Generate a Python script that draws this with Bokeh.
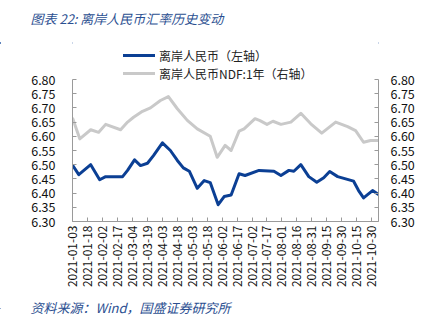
import math
import pandas as pd
from bokeh.plotting import figure
from bokeh.layouts import column
from bokeh.models import (Range1d, LinearAxis, FixedTicker, Legend, LegendItem,
                          NumeralTickFormatter, ColumnDataSource, Div)
from bokeh.core.properties import value
from bokeh.embed import file_html
from bokeh.resources import INLINE

# ---------------- data ----------------
base_date = "2021-01-03"
tick_labels = ["2021-01-03", "2021-01-18", "2021-02-02", "2021-02-17", "2021-03-04",
               "2021-03-19", "2021-04-03", "2021-04-18", "2021-05-03", "2021-05-18",
               "2021-06-02", "2021-06-17", "2021-07-02", "2021-07-17", "2021-08-01",
               "2021-08-16", "2021-08-31", "2021-09-15", "2021-09-30", "2021-10-15",
               "2021-10-30"]
y_ticks = [6.30, 6.35, 6.40, 6.45, 6.50, 6.55, 6.60, 6.65, 6.70, 6.75, 6.80]

cnh_dates = ["2021-01-03", "2021-01-09", "2021-01-21", "2021-01-30", "2021-02-05",
             "2021-02-22", "2021-02-27", "2021-03-06", "2021-03-12", "2021-03-19",
             "2021-03-25", "2021-04-03", "2021-04-11", "2021-04-18", "2021-04-24",
             "2021-04-30", "2021-05-08", "2021-05-15", "2021-05-21", "2021-05-29",
             "2021-06-04", "2021-06-11", "2021-06-19", "2021-06-25", "2021-07-09",
             "2021-07-24", "2021-07-31", "2021-08-08", "2021-08-13", "2021-08-20",
             "2021-08-28", "2021-09-05", "2021-09-12", "2021-09-18", "2021-09-26",
             "2021-10-12", "2021-10-17", "2021-10-22", "2021-10-31", "2021-11-06"]
cnh_values = [6.497, 6.465, 6.500, 6.447, 6.458,
              6.458, 6.480, 6.517, 6.497, 6.505,
              6.532, 6.577, 6.550, 6.515, 6.489,
              6.477, 6.417, 6.444, 6.437, 6.359,
              6.388, 6.393, 6.468, 6.462, 6.480,
              6.477, 6.462, 6.480, 6.477, 6.500,
              6.458, 6.438, 6.454, 6.476, 6.458,
              6.442, 6.409, 6.383, 6.409, 6.395]

ndf_dates = ["2021-01-03", "2021-01-10", "2021-01-21", "2021-01-29", "2021-02-05",
             "2021-02-20", "2021-02-27", "2021-03-05", "2021-03-14", "2021-03-22",
             "2021-04-01", "2021-04-09", "2021-04-18", "2021-04-28", "2021-05-08",
             "2021-05-21", "2021-05-28", "2021-06-05", "2021-06-11", "2021-06-19",
             "2021-06-24", "2021-07-05", "2021-07-10", "2021-07-17", "2021-07-23",
             "2021-07-31", "2021-08-10", "2021-08-20", "2021-08-30", "2021-09-10",
             "2021-09-24", "2021-10-06", "2021-10-14", "2021-10-22", "2021-10-29",
             "2021-11-05"]
ndf_values = [6.662, 6.591, 6.623, 6.614, 6.642,
              6.623, 6.650, 6.667, 6.688, 6.700,
              6.726, 6.740, 6.697, 6.656, 6.626,
              6.600, 6.526, 6.568, 6.550, 6.618,
              6.626, 6.662, 6.655, 6.642, 6.653,
              6.642, 6.650, 6.681, 6.644, 6.611,
              6.650, 6.634, 6.620, 6.579, 6.585,
              6.585]

title_text = "图表 22:  离岸人民币汇率历史变动"
source_text = "资料来源：Wind，国盛证券研究所"
legend_cnh = "离岸人民币（左轴）"
legend_ndf = "离岸人民币NDF:1年（右轴）"

# ---------------- helpers ----------------
base = pd.Timestamp(base_date)
def to_days(dates):
    return [(pd.Timestamp(d) - base).days for d in dates]

tick_days = to_days(tick_labels)

W = 433
H_HEAD, H_MAIN, H_FOOT = 32, 252, 23
FL, FR = 72, 378          # frame left/right (px)
FT_MAIN, FB_MAIN = 0, 181  # frame top/bottom inside main figure (px)
PX_PER_UNIT = 284.0        # pixels per 1.0 of exchange rate

CJK = "Noto Sans CJK SC"
BLUE = "#0b3f94"
GRAY = "#c9c9c9"
TXT_BLUE = "#2b4f91"
RULE = "#2a5aa6"
AXIS_C = "#9a9a9a"

def deco_fig(h):
    # decoration canvas: 1 data unit = 1 px, y measured upward from the bottom
    f = figure(width=W, height=h, output_backend="svg", toolbar_location=None,
               x_range=Range1d(0, W), y_range=Range1d(0, h),
               x_axis_location=None, y_axis_location=None, title=None,
               min_border=0, min_border_left=0, min_border_right=0,
               min_border_top=0, min_border_bottom=0, frame_align=False,
               background_fill_color="white", border_fill_color="white")
    f.outline_line_color = None
    f.grid.visible = False
    return f

def rule_div(thick):
    html = ('<div style="position:relative;width:%dpx;height:%dpx;">'
            '<div style="position:absolute;left:0px;top:0px;width:3px;height:%dpx;'
            'background:%s;"></div>'
            '<div style="position:absolute;left:20px;top:0px;width:408px;height:%dpx;'
            'background:%s;"></div></div>') % (W, thick, thick, RULE, thick, RULE)
    return Div(text=html, width=W, height=thick, margin=0,
               styles={"overflow": "visible", "background": "white"})

def spacer(h):
    return Div(text="", width=W, height=h, margin=0, styles={"background": "white"})

# ---------------- header ----------------
head = deco_fig(H_HEAD)
head.text(x=[30], y=[H_HEAD - 18], text=[title_text], text_font=value(CJK),
          text_font_size="13px", text_color=TXT_BLUE, text_font_style="italic",
          text_baseline="middle", text_align="left")

# ---------------- main chart ----------------
y_top = 6.30 + (FB_MAIN - FT_MAIN) / PX_PER_UNIT
p = figure(width=W, height=H_MAIN, output_backend="svg", toolbar_location=None,
           x_range=Range1d(-0.3, 307), y_range=Range1d(6.30, y_top),
           min_border_left=FL, min_border_right=W - FR,
           min_border_top=FT_MAIN, min_border_bottom=H_MAIN - FB_MAIN,
           frame_align=False,
           background_fill_color="white", border_fill_color="white")
p.outline_line_color = None
p.grid.visible = False
p.extra_y_ranges = {"right": Range1d(6.30, y_top)}

src_cnh = ColumnDataSource(dict(x=to_days(cnh_dates), y=cnh_values))
src_ndf = ColumnDataSource(dict(x=to_days(ndf_dates), y=ndf_values))
r_ndf = p.line("x", "y", source=src_ndf, y_range_name="right", line_color=GRAY,
               line_width=3, line_join="round", line_cap="round")
r_cnh = p.line("x", "y", source=src_cnh, line_color=BLUE, line_width=3,
               line_join="round", line_cap="round")

def style_axis(ax, font_size="12.5px"):
    ax.axis_line_color = AXIS_C
    ax.major_tick_line_color = AXIS_C
    ax.minor_tick_line_color = None
    ax.major_tick_in = 4
    ax.major_tick_out = 0
    ax.major_label_text_font = CJK
    ax.major_label_text_font_size = font_size
    ax.major_label_text_color = "#111111"

xa = p.xaxis[0]
style_axis(xa, "12px")
xa.ticker = FixedTicker(ticks=tick_days)
xa.major_label_overrides = {d: s for d, s in zip(tick_days, tick_labels)}
xa.major_label_orientation = math.pi / 2
xa.major_label_standoff = 4

ya = p.yaxis[0]
style_axis(ya)
ya.ticker = FixedTicker(ticks=y_ticks)
ya.formatter = NumeralTickFormatter(format="0.00")
ya.major_label_standoff = 17
ya.bounds = (6.30, 6.80)

ra = LinearAxis(y_range_name="right")
style_axis(ra)
ra.ticker = FixedTicker(ticks=y_ticks)
ra.formatter = NumeralTickFormatter(format="0.00")
ra.major_label_standoff = 12
ra.bounds = (6.30, 6.80)
p.add_layout(ra, "right")

legend = Legend(items=[LegendItem(label=legend_cnh, renderers=[r_cnh]),
                       LegendItem(label=legend_ndf, renderers=[r_ndf])],
                location=(51, 139.5), orientation="vertical",
                margin=0, padding=0, spacing=1, glyph_width=32, glyph_height=16,
                label_height=16, label_standoff=4,
                label_text_font=CJK, label_text_font_size="12px",
                label_text_color="#222222",
                border_line_color=None, background_fill_alpha=0)
p.add_layout(legend)

# ---------------- footer ----------------
foot = deco_fig(H_FOOT)
foot.text(x=[30], y=[H_FOOT - 9], text=[source_text], text_font=value(CJK),
          text_font_size="13px", text_color=TXT_BLUE, text_font_style="italic",
          text_baseline="middle", text_align="left")

layout = column(head, rule_div(2), spacer(6), p, spacer(5), rule_div(1), foot,
                spacing=0)
open("out.html", "w").write(file_html(layout, INLINE))
